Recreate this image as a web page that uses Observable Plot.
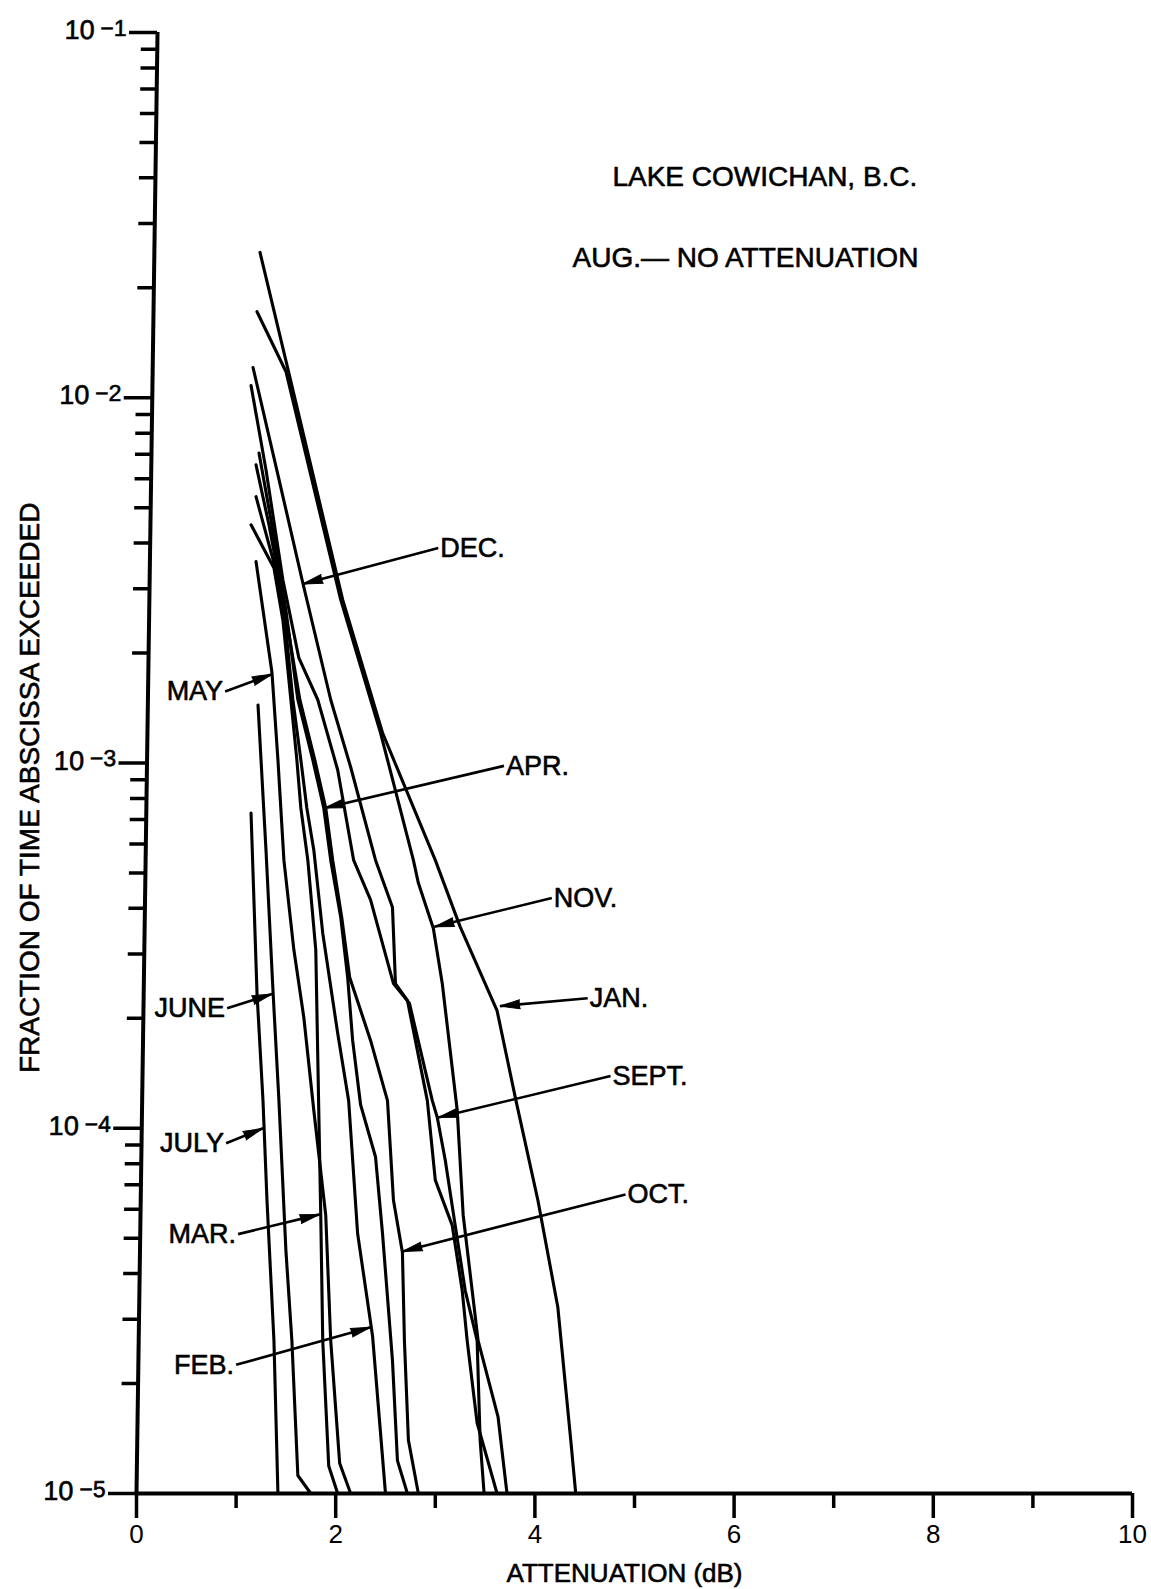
<!DOCTYPE html>
<html>
<head>
<meta charset="utf-8">
<script src="https://cdn.jsdelivr.net/npm/d3@7"></script>
<script src="https://cdn.jsdelivr.net/npm/@observablehq/plot@0.6"></script>
<style>
  body { margin: 0; background: #fff; }
  svg { display: block; }
</style>
</head>
<body>
<div id="chart"></div>
<script>
// Monthly cumulative attenuation distributions, Lake Cowichan, B.C.
// Each point: [attenuation (dB), fraction of time attenuation is exceeded]
const jan = [[1.24,2.50e-2],[1.52,1.20e-2],[2.07,2.80e-3],[2.47,1.21e-3],[3.00,5.42e-4],[3.25,3.56e-4],[3.62,2.10e-4],[3.81,1.19e-4],[4.03,6.35e-5],[4.23,3.24e-5],[4.36,1.40e-5],[4.41,1.00e-5]];
const feb = [[1.20,5.36e-3],[1.38,3.53e-3],[1.49,2.46e-3],[1.57,1.49e-3],[1.65,1.02e-3],[1.71,7.53e-4],[1.78,5.78e-4],[1.87,3.42e-4],[2.02,1.82e-4],[2.13,1.19e-4],[2.22,5.15e-5],[2.37,2.70e-5],[2.50,1.00e-5]];
const mar = [[1.15,4.49e-3],[1.38,3.42e-3],[1.47,2.46e-3],[1.55,1.49e-3],[1.61,1.02e-3],[1.65,7.53e-4],[1.72,5.42e-4],[1.80,3.08e-4],[1.83,1.12e-4],[1.85,5.78e-5],[1.87,2.62e-5],[1.93,1.19e-5],[2.02,1.00e-5]];
const apr = [[1.23,7.06e-3],[1.35,4.63e-3],[1.50,2.62e-3],[1.62,1.49e-3],[1.77,1.02e-3],[1.88,7.53e-4],[1.95,5.42e-4],[2.05,3.79e-4],[2.12,2.59e-4],[2.17,1.74e-4],[2.25,1.16e-4],[2.40,8.34e-5],[2.47,5.15e-5],[2.57,2.31e-5],[2.62,1.23e-5],[2.72,1.00e-5]];
const may = [[1.20,3.56e-3],[1.36,1.77e-3],[1.42,1.02e-3],[1.48,5.42e-4],[1.58,3.08e-4],[1.68,2.01e-4],[1.78,1.12e-4],[1.90,5.78e-5],[1.95,2.62e-5],[2.04,1.21e-5],[2.15,1.00e-5]];
const june = [[1.22,1.44e-3],[1.30,5.78e-4],[1.37,2.39e-4],[1.43,1.19e-4],[1.50,4.63e-5],[1.56,2.62e-5],[1.62,1.12e-5],[1.75,1.00e-5]];
const july = [[1.15,7.29e-4],[1.21,2.34e-4],[1.27,1.19e-4],[1.31,6.35e-5],[1.38,2.62e-5],[1.42,1.00e-5]];
const sept = [[1.15,1.08e-2],[1.30,6.35e-3],[1.47,3.17e-3],[1.63,1.94e-3],[1.82,1.49e-3],[2.02,9.57e-4],[2.18,5.42e-4],[2.35,4.22e-4],[2.58,2.49e-4],[2.74,2.20e-4],[2.97,1.19e-4],[3.02,1.07e-4],[3.10,8.17e-5],[3.20,5.42e-5],[3.30,3.60e-5],[3.42,2.62e-5],[3.45,1.40e-5],[3.49,1.00e-5]];
const oct = [[1.20,6.55e-3],[1.33,4.49e-3],[1.49,2.62e-3],[1.64,1.49e-3],[1.79,1.02e-3],[1.90,7.53e-4],[1.97,5.42e-4],[2.06,3.79e-4],[2.14,2.59e-4],[2.35,1.74e-4],[2.52,1.19e-4],[2.58,6.35e-5],[2.67,4.57e-5],[2.69,2.62e-5],[2.73,1.40e-5],[2.83,1.00e-5]];
const nov = [[1.21,1.72e-2],[1.50,1.18e-2],[2.05,2.80e-3],[2.45,1.21e-3],[2.78,5.42e-4],[2.83,4.69e-4],[2.98,3.53e-4],[3.07,2.49e-4],[3.22,1.12e-4],[3.28,5.78e-5],[3.43,2.62e-5],[3.63,1.62e-5],[3.72,1.00e-5]];
const dec = [[1.17,1.21e-2],[1.42,6.15e-3],[1.67,3.11e-3],[1.95,1.49e-3],[2.15,9.75e-4],[2.40,5.42e-4],[2.57,4.03e-4],[2.60,2.49e-4],[2.72,2.24e-4],[2.92,1.19e-4],[3.00,7.21e-5],[3.17,5.42e-5],[3.27,3.60e-5],[3.32,2.62e-5],[3.42,1.56e-5],[3.62,1.00e-5]];

const monthNames = ["JAN.", "FEB.", "MAR.", "APR.", "MAY", "JUNE", "JULY", "SEPT.", "OCT.", "NOV.", "DEC."];
const monthSeries = [jan, feb, mar, apr, may, june, july, sept, oct, nov, dec];

// Curve labels: text, where the text/arrow starts, where the arrow points, which side the text sits on
const labelNames = ["DEC.", "APR.", "NOV.", "JAN.", "SEPT.", "OCT.", "MAY", "JUNE", "JULY", "MAR.", "FEB."];
const labelAt = [[3.03,3.88e-3],[3.69,9.82e-4],[4.17,4.27e-4],[4.53,2.27e-4],[4.76,1.39e-4],[4.91,6.59e-5],[0.89,1.57e-3],[0.91,2.13e-4],[0.90,9.10e-5],[1.02,5.13e-5],[1.00,2.25e-5]];
const arrowTip = [[1.67,3.09e-3],[1.89,7.53e-4],[2.99,3.56e-4],[3.65,2.16e-4],[3.03,1.07e-4],[2.67,4.60e-5],[1.36,1.75e-3],[1.36,2.33e-4],[1.27,1.00e-4],[1.84,5.81e-5],[2.35,2.85e-5]];
const labelSide = ["right", "right", "right", "right", "right", "right", "left", "left", "left", "left", "left"];

// Axis ticks
const xMajor = [0, 2, 4, 6, 8, 10];
const xMinor = [1, 3, 5, 7, 9];
const yMajor = [1e-1, 1e-2, 1e-3, 1e-4, 1e-5];
const yExponent = ["−1", "−2", "−3", "−4", "−5"];
const yMinor = [2, 3, 4, 5, 6, 7, 8, 9].flatMap(m => [1e-2, 1e-3, 1e-4, 1e-5].map(d => m * d));

const notes = ["LAKE COWICHAN, B.C.", "AUG.— NO ATTENUATION"];

// Layout
const W = 1151, H = 1589;
const mL = 136, mR = 19, mT = 32, mB = 96;
const xDomain = [0, 10], yDomain = [1e-5, 1e-1];
const font = "'Liberation Sans', Arial, Helvetica, sans-serif";
// slightly heavier lettering
const ink = {fill: "black", stroke: "black", strokeWidth: 0.6};

const rows = monthSeries.flatMap((pts, i) =>
  pts.map(([atten, frac]) => ({month: monthNames[i], atten, frac})));

// Screen-space direction of each arrow, for orienting the arrowheads
const sx = Plot.scale({x: {domain: xDomain, range: [mL, W - mR]}});
const sy = Plot.scale({y: {type: "log", domain: yDomain, range: [H - mB, mT]}});
const arrows = labelNames.map((name, i) => {
  const [ax, ay] = labelAt[i], [tx, ty] = arrowTip[i];
  const dx = sx.apply(tx) - sx.apply(ax);
  const dy = sy.apply(ty) - sy.apply(ay);
  return {name, ax, ay, tx, ty, side: labelSide[i], angle: Math.atan2(dx, -dy) * 180 / Math.PI};
});
const yTicks = yMajor.map((v, i) => ({v, e: yExponent[i]}));

const chart = Plot.plot({
  width: W,
  height: H,
  marginLeft: mL,
  marginRight: mR,
  marginTop: mT,
  marginBottom: mB,
  x: {domain: xDomain},
  y: {type: "log", domain: yDomain},
  style: {fontFamily: font, background: "white", color: "black", overflow: "visible"},
  marks: [
    // axis lines (x first, then y)
    Plot.ruleY([1e-5], {x1: 0, x2: 10, strokeWidth: 4}),
    Plot.ruleX([0], {y1: 1e-5, y2: 1e-1, strokeWidth: 4}),
    // x ticks and labels
    Plot.axisX(xMajor, {tickSize: 25, strokeWidth: 3.5, tickPadding: 6, fontSize: 26, label: null, tickFormat: d => String(d)}),
    Plot.axisX(xMinor, {tickSize: 15, strokeWidth: 3.5, tickFormat: () => "", label: null}),
    // y ticks and labels of the form 10 −n
    Plot.axisY(yMajor, {tickSize: 28, strokeWidth: 3.5, tickFormat: () => "", label: null}),
    Plot.axisY(yMinor, {tickSize: 16, strokeWidth: 3.5, tickFormat: () => "", label: null}),
    Plot.text(yTicks, {x: 0, y: "v", text: () => "10", textAnchor: "end", dx: -63, dy: -2, fontSize: 27, ...ink}),
    Plot.text(yTicks, {x: 0, y: "v", text: "e", textAnchor: "end", dx: -31, dy: -4, fontSize: 23, ...ink}),
    // monthly curves
    Plot.line(rows, {x: "atten", y: "frac", z: "month", stroke: "black", strokeWidth: 3.1, strokeLinejoin: "round", strokeLinecap: "round"}),
    // label arrows
    Plot.link(arrows, {x1: "ax", y1: "ay", x2: "tx", y2: "ty", stroke: "black", strokeWidth: 2.6}),
    Plot.vector(arrows, {x: "tx", y: "ty", rotate: "angle", length: 20, r: 4.5, shape: "spike", anchor: "end", fill: "black", stroke: "black", strokeWidth: 1}),
    Plot.text(arrows.filter(d => d.side === "right"), {x: "ax", y: "ay", text: "name", textAnchor: "start", dx: 2, fontSize: 27, ...ink}),
    Plot.text(arrows.filter(d => d.side === "left"), {x: "ax", y: "ay", text: "name", textAnchor: "end", dx: -2, fontSize: 27, ...ink}),
    // notes
    Plot.text(notes.slice(0, 1), {x: 7.84, y: 4.01e-2, text: d => d, textAnchor: "end", fontSize: 28, ...ink}),
    Plot.text(notes.slice(1), {x: 7.85, y: 2.42e-2, text: d => d, textAnchor: "end", fontSize: 28, ...ink}),
    // axis titles
    Plot.text(["ATTENUATION (dB)"], {x: 4.9, frameAnchor: "bottom", text: d => d, dy: 88, fontSize: 26, ...ink}),
    Plot.text(["FRACTION OF TIME ABSCISSA EXCEEDED"], {x: 0, y: 8.55e-4, text: d => d, rotate: -90, dx: -106, fontSize: 28, ...ink})
  ]
});

// The y axis of the drawing leans slightly to the right toward the top:
// shear the y-axis line, its ticks and its tick labels about the baseline.
const lean = 0.0144;
const yBase = chart.scale("y").apply(1e-5);
const svg = d3.select(chart);
const leanGroup = svg.append("g")
  .attr("transform", `translate(${lean * yBase},0) skewX(${-Math.atan(lean) * 180 / Math.PI})`);
const rules = svg.selectAll(':scope > g[aria-label="rule"]').nodes();
const texts = svg.selectAll(':scope > g[aria-label="text"]').nodes();
const yAxisParts = [
  rules[1],
  ...svg.selectAll(':scope > g[aria-label^="y-axis"]').nodes(),
  texts[0],
  texts[1]
].filter(Boolean);
for (const node of yAxisParts) leanGroup.node().appendChild(node);

document.getElementById("chart").appendChild(chart);
</script>
</body>
</html>
